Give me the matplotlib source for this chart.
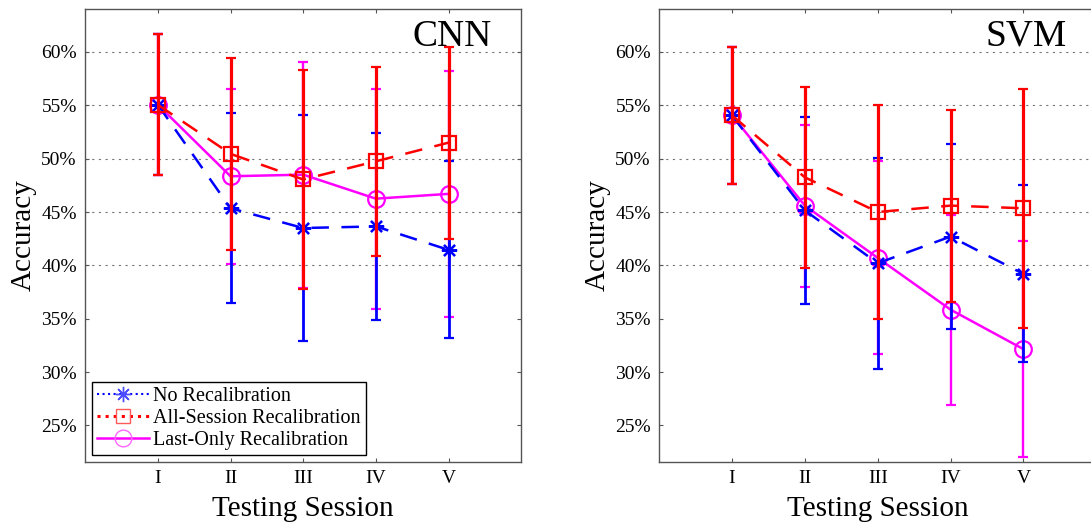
import numpy as np
import matplotlib
matplotlib.use('Agg')
import matplotlib.pyplot as plt
from matplotlib.lines import Line2D

plt.rcParams['font.family'] = ['Liberation Serif', 'DejaVu Serif']
plt.rcParams['mathtext.default'] = 'regular'

sessions = ['I', 'II', 'III', 'IV', 'V']
yticks = [25, 30, 35, 40, 45, 50, 55, 60]

# CNN panel (accuracy in %, symmetric error)
cnn_no_mean = [55.05, 45.35, 43.5, 43.65, 41.45]
cnn_no_err = [6.6, 8.9, 10.55, 8.75, 8.3]
cnn_all_mean = [55.05, 50.45, 48.05, 49.75, 51.5]
cnn_all_err = [6.6, 9.0, 10.3, 8.85, 9.0]
cnn_last_mean = [55.05, 48.35, 48.5, 46.25, 46.7]
cnn_last_err = [6.6, 8.2, 10.6, 10.3, 11.5]

# SVM panel
svm_no_mean = [54.05, 45.15, 40.2, 42.7, 39.2]
svm_no_err = [6.4, 8.75, 9.9, 8.7, 8.3]
svm_all_mean = [54.05, 48.25, 45.0, 45.6, 45.35]
svm_all_err = [6.4, 8.5, 10.05, 9.0, 11.2]
svm_last_mean = [54.05, 45.6, 40.7, 35.85, 32.15]
svm_last_err = [6.4, 7.6, 9.05, 8.9, 10.1]

labels = ['No Recalibration', 'All-Session Recalibration', 'Last-Only Recalibration']

BLUE, RED, MAG = (0, 0, 1), (1, 0, 0), (1, 0, 1)
ASTER = (8, 2, 0)

fig = plt.figure(figsize=(10.91, 5.24), dpi=100)
ax1 = fig.add_axes([0.0781, 0.1189, 0.3996, 0.8634])
ax2 = fig.add_axes([0.6042, 0.1189, 0.4006, 0.8634])

x = np.arange(1, len(sessions) + 1)


def draw_panel(ax, no_m, no_e, all_m, all_e, last_m, last_e, name):
    # magenta lowest, then blue, then red on top
    ax.errorbar(x, last_m, yerr=last_e, color=MAG, lw=1.8, ls='-',
                marker='o', ms=12, mfc='none', mec=MAG, mew=1.6,
                elinewidth=1.7, capsize=3.5, capthick=1.7, zorder=3)
    ax.errorbar(x, no_m, yerr=no_e, color=BLUE, lw=1.8, ls=(0, (7, 5)),
                marker=ASTER, ms=11, mec=BLUE, mew=1.6,
                elinewidth=2.0, capsize=3.5, capthick=2.0, zorder=4)
    ax.errorbar(x, all_m, yerr=all_e, color=RED, lw=1.8, ls=(0, (7, 5)),
                marker='s', ms=10.5, mfc='none', mec=RED, mew=1.6,
                elinewidth=2.3, capsize=3.5, capthick=2.3, zorder=5)

    ax.set_xlim(0, 6)
    ax.set_ylim(21.6, 64.0)
    ax.set_xticks(x)
    ax.set_xticklabels(sessions)
    ax.set_yticks(yticks)
    ax.set_yticklabels([f'{v}%' for v in yticks])
    ax.tick_params(direction='in', top=True, right=True, length=3,
                   width=0.8, color='#555555', labelsize=14, pad=6)
    for s in ax.spines.values():
        s.set_color('#555555')
        s.set_linewidth(1.0)

    ax.yaxis.grid(True, linestyle=(0, (2, 4)), color='#777777', linewidth=0.8)
    for v, gl in zip(ax.get_yticks(), ax.yaxis.get_gridlines()):
        if v < 40:
            gl.set_visible(False)
    ax.set_axisbelow(True)

    ax.set_xlabel('Testing Session', fontsize=21)
    ax.xaxis.set_label_coords(0.5, -0.076)
    ax.set_ylabel('Accuracy', fontsize=21)
    ax.yaxis.set_label_coords(-0.112, 0.5)

    ax.text(5.6, 60.6, name, fontsize=27, ha='right', va='baseline')


draw_panel(ax1, cnn_no_mean, cnn_no_err, cnn_all_mean, cnn_all_err,
           cnn_last_mean, cnn_last_err, 'CNN')
draw_panel(ax2, svm_no_mean, svm_no_err, svm_all_mean, svm_all_err,
           svm_last_mean, svm_last_err, 'SVM')

handles = [
    Line2D([], [], color=BLUE, ls=':', lw=1.5, marker=ASTER, ms=11,
           mec=(0.3, 0.3, 1), mew=1.0),
    Line2D([], [], color=RED, ls=':', lw=2.2, marker='s', ms=10,
           mfc='none', mec=(1, 0.35, 0.35), mew=1.0),
    Line2D([], [], color=MAG, ls='-', lw=1.8, marker='o', ms=12,
           mfc='none', mec=(1, 0.4, 1), mew=1.0),
]
leg = ax1.legend(handles, labels, loc='lower left',
                 bbox_to_anchor=(0.0156, 0.0148), borderaxespad=0,
                 fontsize=14.5, fancybox=False, framealpha=1,
                 edgecolor='black', handlelength=2.6, handletextpad=0.2,
                 borderpad=0.25, labelspacing=0.15)
leg.get_frame().set_linewidth(1.0)

fig.savefig('out.png', dpi=100)
